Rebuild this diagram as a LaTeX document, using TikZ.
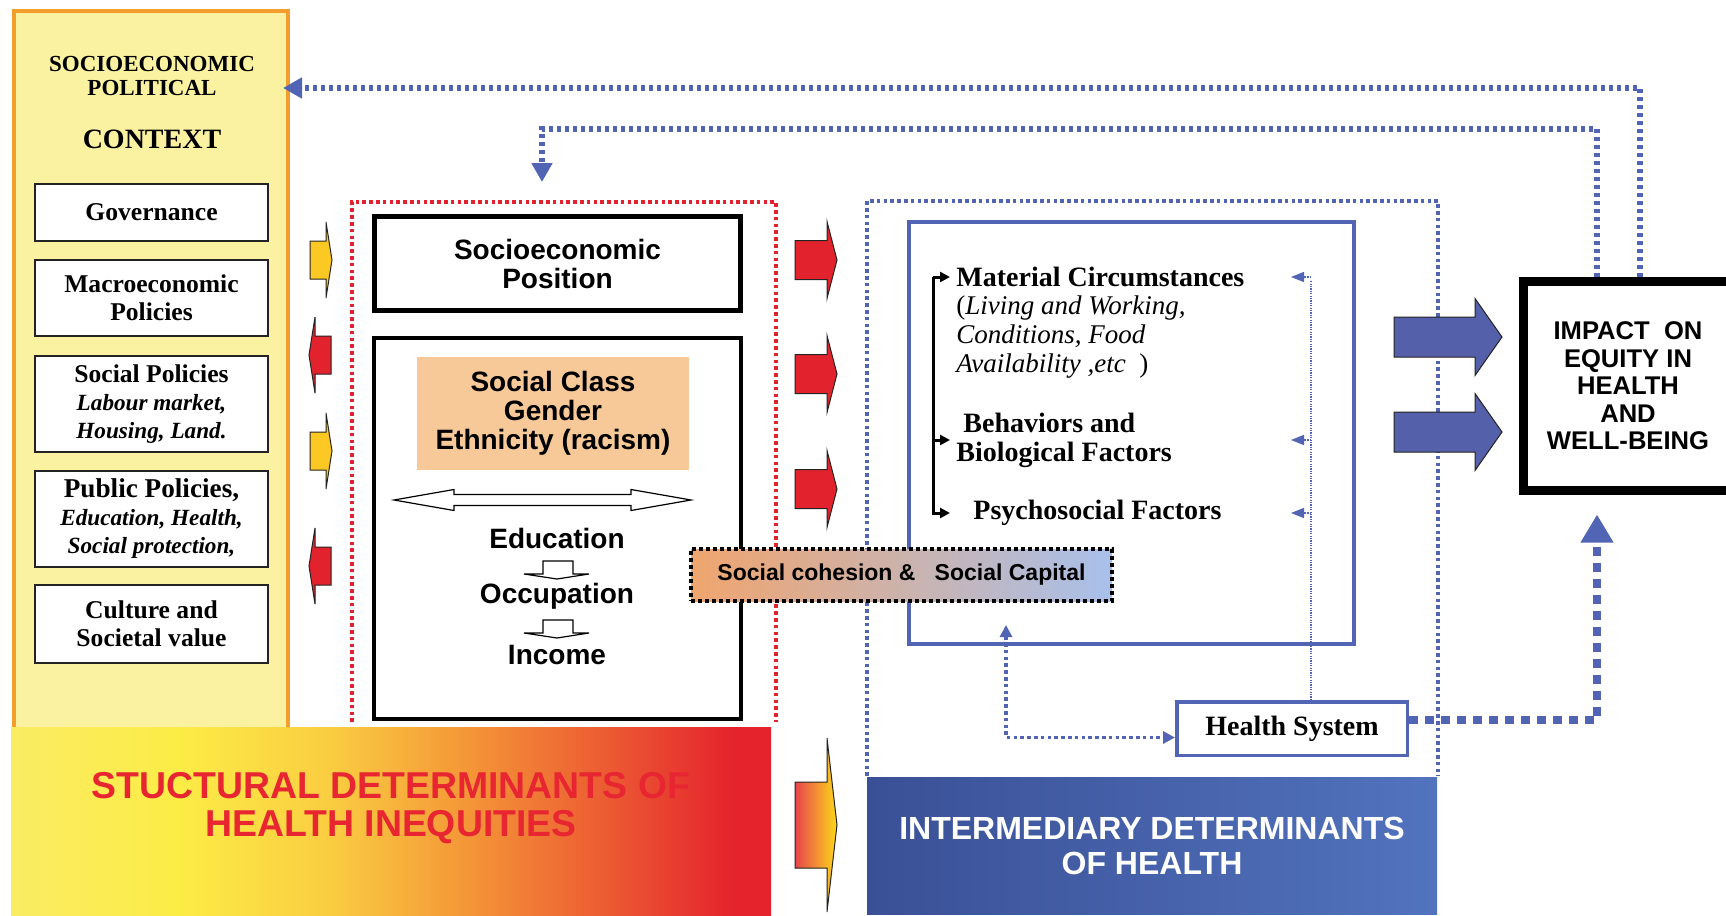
\documentclass[tikz,border=0pt]{standalone}
\usepackage{fontspec}
\setmainfont{Liberation Serif}
\setsansfont{Liberation Sans}
\usetikzlibrary{arrows.meta,positioning}

\definecolor{ctxfill}{RGB}{250,242,160}
\definecolor{ctxline}{RGB}{243,158,45}
\definecolor{boxline}{RGB}{35,35,35}
\definecolor{warmfill}{RGB}{248,201,152}
\definecolor{gold}{RGB}{252,200,35}
\definecolor{hotred}{RGB}{226,35,45}
\definecolor{fbblue}{RGB}{82,100,180}
\definecolor{blockblue}{RGB}{84,96,170}
\definecolor{bandL}{RGB}{58,80,150}
\definecolor{bandR}{RGB}{82,115,190}
\definecolor{cohL}{RGB}{240,165,110}
\definecolor{cohR}{RGB}{168,192,235}
\definecolor{txtred}{RGB}{232,38,50}
\definecolor{sy0}{RGB}{250,236,100}
\definecolor{sy1}{RGB}{252,236,70}
\definecolor{sy2}{RGB}{250,205,65}
\definecolor{sy3}{RGB}{244,150,55}
\definecolor{sy4}{RGB}{235,85,50}
\definecolor{sy5}{RGB}{228,35,45}

% yellow to red band under the structural part
\pgfdeclarehorizontalshading{structfade}{100bp}{color(0bp)=(sy0); color(25bp)=(sy0);
  color(36bp)=(sy1); color(46bp)=(sy2); color(55bp)=(sy3); color(65bp)=(sy4);
  color(72.5bp)=(sy5); color(100bp)=(sy5)}

\newcommand\polsub{\bfseries\itshape\fontsize{11.6}{12.5}\selectfont}

\begin{document}
\begin{tikzpicture}[x=0.5pt, y=-0.5pt,
  ctxbox/.style = {draw=boxline, line width=1pt, fill=white,
    minimum width=116.5pt, inner sep=0pt, align=center,
    font=\bfseries\fontsize{12.8}{14}\selectfont},
  sans/.style = {font=\sffamily\bfseries\fontsize{14}{14.5}\selectfont,
    align=center, inner sep=0pt},
  factor/.style = {anchor=west, inner sep=3pt, align=left,
    font=\bfseries\fontsize{14}{14.5}\selectfont},
  blockarr/.style = {draw=boxline, line width=0.5pt},
  reddot/.style = {draw=hotred, line width=1.8pt, dash pattern=on 1.8pt off 1.6pt},
  bluedot/.style = {draw=fbblue, line width=1.8pt, dash pattern=on 1.8pt off 1.6pt},
  fback/.style = {draw=fbblue, line width=3pt, dash pattern=on 2pt off 2pt,
    -{Triangle[length=9.5pt, width=10pt]}},
  hsthin/.style = {draw=fbblue, line width=0.6pt, dash pattern=on 0.6pt off 0.6pt},
  brkarr/.style = {draw=black, line width=1.5pt, -{Triangle[length=5pt, width=5pt]}}]

  \path[use as bounding box, fill=white] (0,0) rectangle (1726,916);

  % context column
  \draw[draw=ctxline, fill=ctxfill, line width=2pt] (14,11) rectangle (288,740);
  \node[align=center, font=\bfseries\fontsize{11.5}{12}\selectfont] (ctxhead) at (152,76)
    {SOCIOECONOMIC\\POLITICAL};
  \node[font=\bfseries\fontsize{14}{14}\selectfont] (ctxtitle) at (152,139) {CONTEXT};
  \node[ctxbox, minimum height=28.5pt] (gov) at (151.5,212.5) {Governance};
  \node[ctxbox, minimum height=38pt] (macro) at (151.5,298) {Macroeconomic\\Policies};
  \node[ctxbox, minimum height=48pt] (socpol) at (151.5,404)
    {Social Policies\\\polsub Labour market,\\\polsub Housing, Land.};
  \node[ctxbox, minimum height=48pt] (pubpol) at (151.5,519)
    {\fontsize{13.6}{14}\selectfont Public Policies,\\\polsub Education, Health,\\\polsub Social protection,};
  \node[ctxbox, minimum height=39pt] (culture) at (151.5,624) {Culture and\\Societal value};

  \foreach \c in {260,451}
    \filldraw[blockarr, fill=gold] (310,\c-19) -- (326,\c-19) -- (326,\c-38) -- (332,\c)
      -- (326,\c+38) -- (326,\c+19) -- (310,\c+19) -- cycle;
  \foreach \c in {355,566}
    \filldraw[blockarr, fill=hotred] (331,\c-19) -- (315,\c-19) -- (315,\c-38) -- (309,\c)
      -- (315,\c+38) -- (315,\c+19) -- (331,\c+19) -- cycle;

  % socioeconomic position
  \draw[reddot] (352,722) -- (352,202) -- (776,202) -- (776,722);
  \node[draw=black, line width=2.5pt, minimum width=183pt, minimum height=47pt,
    sans, yshift=3pt] (sep) at (557.5,269.5) {Socioeconomic\\Position};
  \node[draw=black, line width=2pt, minimum width=183.5pt, minimum height=190.5pt]
    (clsbox) at (557.5,528.5) {};
  \node[sans, fill=warmfill, minimum width=136pt, minimum height=56.5pt] (cls)
    at (553,413.5) {Social Class\\Gender\\Ethnicity (racism)};
  \draw[line width=0.6pt, fill=white] (394,500) -- (454,489.5) -- (454,494.5) -- (631,494.5)
    -- (631,489.5) -- (691,500) -- (631,510.5) -- (631,505.5) -- (454,505.5) -- (454,510.5) -- cycle;
  \node[sans] (edu) at (557,538) {Education};
  \node[sans] (occ) at (557,596) {Occupation};
  \node[sans] (inc) at (557,655) {Income};
  \foreach \t in {561,620}
    \draw[line width=0.6pt, fill=white] (543,\t) -- (573,\t) -- (573,\t+13) -- (589,\t+13)
      -- (557,\t+18) -- (524,\t+13) -- (543,\t+13) -- cycle;

  \foreach \c in {260,374,489}
    \filldraw[blockarr, fill=hotred] (795,\c-19.5) -- (827,\c-19.5) -- (827,\c-38.5) -- (837,\c)
      -- (827,\c+38.5) -- (827,\c+19.5) -- (795,\c+19.5) -- cycle;

  % intermediary determinants
  \draw[bluedot] (867,776) -- (867,201) -- (1438,201) -- (1438,776);
  \draw[draw=fbblue, line width=1.75pt] (909,222) rectangle (1354,644);
  \node[factor] (mat) at (950,277) {Material Circumstances};
  \node[factor, font=\fontsize{13.5}{14.5}\selectfont] (matsub) at (950,337)
    {(\textit{Living and Working,}\\\textit{Conditions, Food}\\\textit{Availability ,etc~~})};
  \node[factor] (beh) at (950,440) {\hspace*{3.5pt}Behaviors and\\Biological Factors};
  \node[factor] (psy) at (950,513) {\hspace*{8.5pt}Psychosocial Factors};
  \coordinate (brk) at (933,277);
  \draw[brkarr] (brk) -- (mat.west);
  \draw[brkarr] (brk |- beh.west) -- (beh.west);
  \draw[brkarr] (brk) |- (psy.west);

  \node[draw=fbblue, line width=1.75pt, minimum width=115.25pt, minimum height=26.75pt,
    font=\bfseries\fontsize{14}{14}\selectfont] (hs) at (1292,728.5) {Health System};
  \coordinate (hsline) at (1311,280);
  \draw[hsthin] (hsline |- hs.north) -- (hsline);
  \foreach \n in {mat,beh,psy}
    \draw[hsthin, -{Triangle[length=6.5pt, width=5pt]}] (hsline |- \n) -- ++(-20,0);
  \coordinate (cohin) at (1006,625);
  \draw[bluedot, {Triangle[length=6pt, width=6pt]}-{Triangle[length=6pt, width=6pt]}]
    (cohin) |- ([yshift=-4.5pt]hs.west);

  \node[draw=black, line width=2pt, dash pattern=on 2pt off 1.5pt, left color=cohL,
    right color=cohR, minimum width=210.5pt, minimum height=26pt,
    font=\sffamily\bfseries\fontsize{11.5}{12}\selectfont] (coh) at (901.5,575)
    {Social cohesion \&\ \ \ Social Capital};

  % impact
  \node[draw=black, line width=4.5pt, minimum width=104.75pt, minimum height=104.5pt,
    align=center, font=\sffamily\bfseries\fontsize{12.8}{13.75}\selectfont]
    (impact) at (1628,386) {IMPACT\ \ ON\\EQUITY IN\\HEALTH\\AND\\WELL-BEING};
  \foreach \c in {337,432}
    \filldraw[blockarr, fill=blockblue] (1394,\c-20) -- (1475,\c-20) -- (1475,\c-38.5) -- (1502,\c)
      -- (1475,\c+38.5) -- (1475,\c+20) -- (1394,\c+20) -- cycle;
  \draw[draw=fbblue, line width=4pt, dash pattern=on 4.5pt off 3.5pt,
    -{Triangle[length=14pt, width=15.5pt]}]
    ([yshift=4.5pt]hs.east) -| ([xshift=-15.5pt, yshift=-9.75pt]impact.south);

  \coordinate (ctxin) at (283,88);
  \coordinate (sepin) at (542,182);
  \draw[fback] ([xshift=6pt]impact.north) |- (ctxin);
  \draw[fback] ([xshift=-15.5pt]impact.north) |- ([yshift=26.5pt]sepin) -- (sepin);

  % bottom bands
  \shade[shading=structfade] (11,727) rectangle (771,916);
  \node[align=center, text=txtred, font=\sffamily\bfseries\fontsize{18.7}{19}\selectfont]
    (strtxt) at (391,808) {STUCTURAL DETERMINANTS OF\\HEALTH INEQUITIES};
  \shadedraw[blockarr, left color=hotred!85!white, right color=gold!70!yellow]
    (795,782) -- (827,782) -- (827,738) -- (837,825) -- (827,912) -- (827,868) -- (795,868) -- cycle;
  \node[left color=bandL, right color=bandR, minimum width=285pt, minimum height=68.5pt,
    align=center, text=white, font=\sffamily\bfseries\fontsize{16}{17.5}\selectfont,
    text depth=-3pt] (intban) at (1152,845.5) {INTERMEDIARY DETERMINANTS\\OF HEALTH};
\end{tikzpicture}
\end{document}
